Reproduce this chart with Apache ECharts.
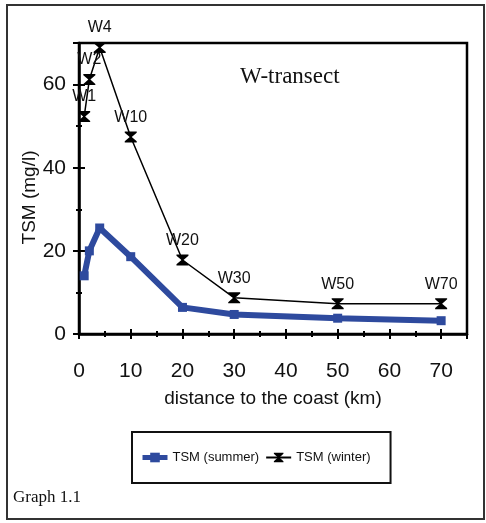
<!DOCTYPE html>
<html>
<head>
<meta charset="utf-8">
<script src="https://cdn.jsdelivr.net/npm/echarts@6/dist/echarts.min.js"></script>
<style>
html,body{margin:0;padding:0;background:#fff;}
#chart{width:486px;height:523px;}
</style>
</head>
<body>
<div id="chart"></div>
<script>
// ---- data ----
var distanceKm = [1, 2, 4, 10, 20, 30, 50, 70];
var stationNames = ['W1', 'W2', 'W4', 'W10', 'W20', 'W30', 'W50', 'W70'];
var tsmSummer = [14, 20, 25.5, 18.6, 6.4, 4.7, 3.8, 3.2];
var tsmWinter = [52.3, 61.2, 68.9, 47.4, 17.8, 8.7, 7.3, 7.3];
var xTickLabels = [0, 10, 20, 30, 40, 50, 60, 70];
var yTickLabels = [0, 20, 40, 60];

var summerData = distanceKm.map(function (d, i) { return [d, tsmSummer[i]]; });
var winterData = distanceKm.map(function (d, i) { return [d, tsmWinter[i], stationNames[i]]; });

var hourglass = 'path://M0,0 L12,0 L12,1.2 L7,5.5 L12,9.8 L12,11 L0,11 L0,9.8 L5,5.5 L0,1.2 Z';
var sans = '"Liberation Sans", Arial, sans-serif';
var serif = '"Liberation Serif", "Times New Roman", serif';

function xAxisDef(interval, inside, len, main) {
  return {
    type: 'value', gridIndex: 0, position: 'bottom', min: 0, max: 75, interval: interval,
    axisLine: { show: !!main, onZero: false, lineStyle: { color: '#000', width: 2.5 } },
    axisTick: { show: true, inside: inside, length: len, lineStyle: { color: '#000', width: 2 } },
    axisLabel: main ? {
      show: true, fontSize: 21, color: '#111', fontFamily: sans, margin: 27,
      formatter: function (v) { return xTickLabels.indexOf(v) >= 0 ? String(v) : ''; }
    } : { show: false },
    splitLine: { show: false },
    name: main ? 'distance to the coast (km)' : '',
    nameLocation: 'middle', nameGap: 55, nameMoveOverlap: false,
    nameTextStyle: { fontSize: 19, color: '#111', fontFamily: sans }
  };
}
function yAxisDef(interval, inside, len, main) {
  return {
    type: 'value', gridIndex: 0, position: 'left', min: 0, max: 70, interval: interval,
    axisLine: { show: !!main, onZero: false, lineStyle: { color: '#000', width: 2.5 } },
    axisTick: { show: true, inside: inside, length: len, lineStyle: { color: '#000', width: 2 } },
    axisLabel: main ? {
      show: true, fontSize: 21, color: '#111', fontFamily: sans, margin: 13,
      formatter: function (v) { return yTickLabels.indexOf(v) >= 0 ? String(v) : ''; }
    } : { show: false },
    splitLine: { show: false },
    name: main ? 'TSM (mg/l)' : '',
    nameLocation: 'middle', nameGap: 40, nameMoveOverlap: false,
    nameTextStyle: { fontSize: 19, color: '#111', fontFamily: sans, padding: [0, 0, 0, -18] }
  };
}

var chart = echarts.init(document.getElementById('chart'), null, { renderer: 'canvas' });
chart.setOption({
  animation: false,
  backgroundColor: '#fff',
  grid: { left: 79, right: 19, top: 43, bottom: 189, show: true, borderColor: '#000', borderWidth: 2.5, backgroundColor: 'transparent' },
  xAxis: [
    xAxisDef(10, false, 5, true),
    xAxisDef(10, true, 5, false),
    xAxisDef(5, false, 3, false),
    xAxisDef(5, true, 3, false)
  ],
  yAxis: [
    yAxisDef(20, false, 6, true),
    yAxisDef(20, true, 6, false),
    yAxisDef(10, false, 3, false),
    yAxisDef(10, true, 3, false)
  ],
  legend: {
    left: 132, top: 432,
    orient: 'horizontal',
    borderColor: '#111', borderWidth: 2,
    padding: [19, 20, 19, 8],
    itemGap: 6, itemWidth: 25, itemHeight: 12,
    textStyle: { fontSize: 13, color: '#111', fontFamily: sans },
    data: [
      { name: 'TSM (summer)', lineStyle: { width: 5 } },
      { name: 'TSM (winter)', lineStyle: { width: 2 } }
    ]
  },
  graphic: [
    { type: 'rect', shape: { x: 7, y: 5, width: 477, height: 514 }, style: { fill: 'none', stroke: '#333', lineWidth: 2 }, silent: true },
    { type: 'text', x: 240, y: 77, style: { text: 'W-transect', font: '23px ' + serif, fill: '#111', textVerticalAlign: 'middle' } },
    { type: 'text', x: 13, y: 498, style: { text: 'Graph 1.1', font: '17px ' + serif, fill: '#111', textVerticalAlign: 'middle' } }
  ],
  series: [
    {
      name: 'TSM (summer)', type: 'line', xAxisIndex: 0, yAxisIndex: 0,
      data: summerData,
      symbol: 'rect', symbolSize: 9,
      lineStyle: { color: '#2E4A9E', width: 6 },
      itemStyle: { color: '#2E4A9E' },
      z: 3
    },
    {
      name: 'TSM (winter)', type: 'line', xAxisIndex: 0, yAxisIndex: 0,
      data: winterData,
      symbol: hourglass, symbolSize: [12, 11],
      lineStyle: { color: '#000', width: 1.5 },
      itemStyle: { color: '#000' },
      label: {
        show: true, position: 'top', distance: 6,
        fontSize: 16, color: '#111', fontFamily: sans,
        formatter: function (p) { return p.data[2]; }
      },
      z: 4
    }
  ]
});
</script>
</body>
</html>
